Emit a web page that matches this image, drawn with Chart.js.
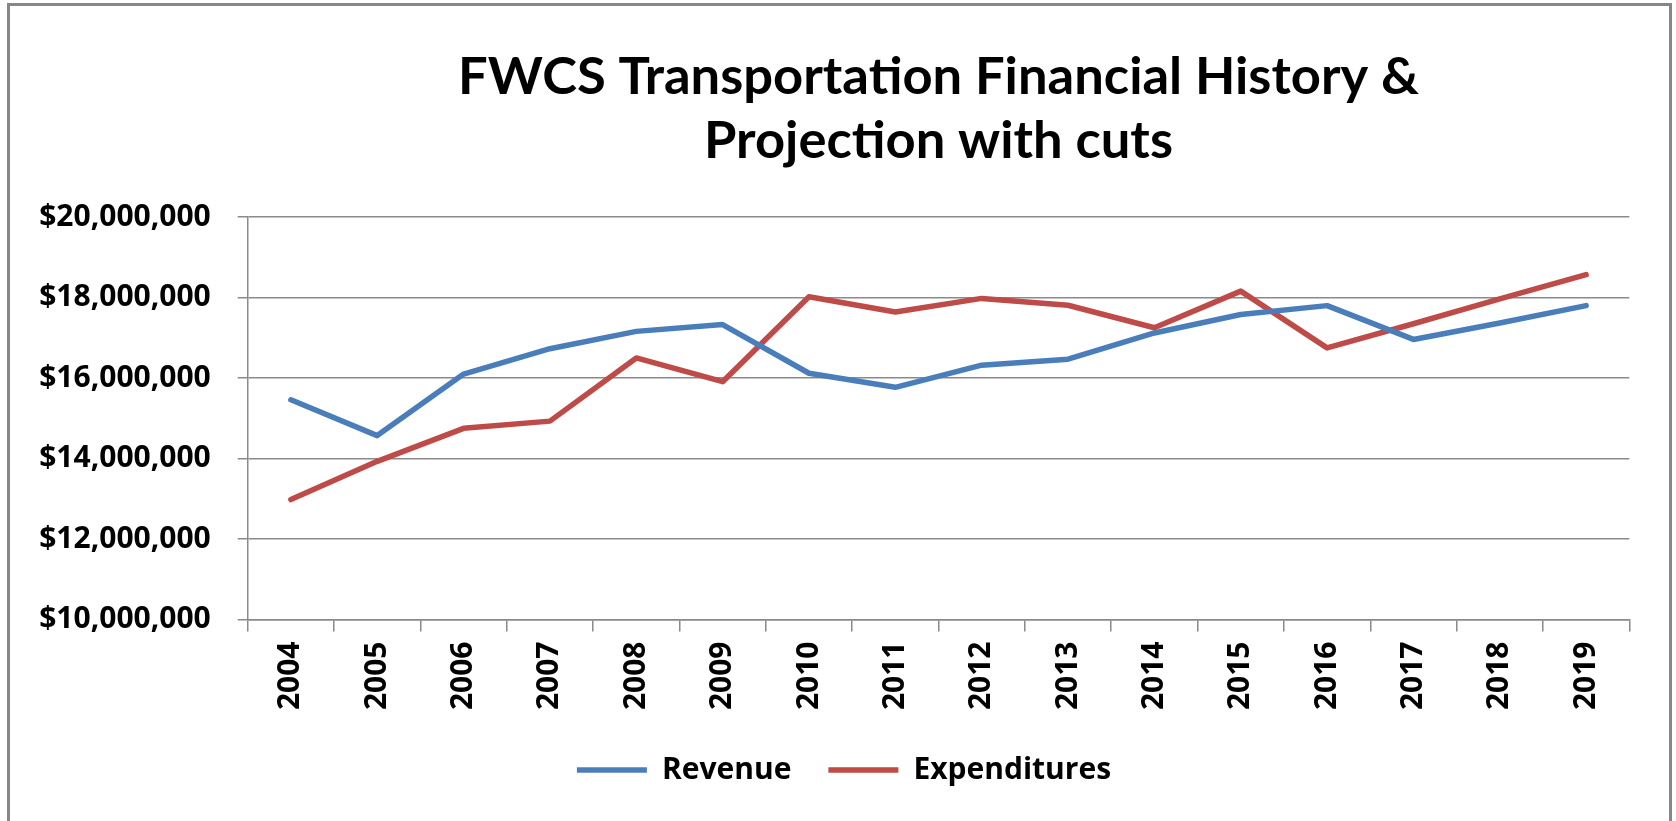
<!DOCTYPE html>
<html>
<head>
<meta charset="utf-8">
<script src="https://cdn.jsdelivr.net/npm/chart.js@4.4.1/dist/chart.umd.min.js"></script>
<style>
  html, body { margin: 0; padding: 0; background: #fff; overflow: hidden; }
  #wrap { position: relative; width: 1676px; height: 821px; }
  #frame { position: absolute; left: 7px; top: 3px; width: 1659px; height: 840px; border: 3px solid #878787; pointer-events: none; }
  canvas { position: absolute; left: 0; top: 0; }
</style>
</head>
<body>
<div id="wrap">
  <canvas id="c" width="1676" height="821"></canvas>
  <div id="frame"></div>
</div>
<script>
const years = ['2004','2005','2006','2007','2008','2009','2010','2011','2012','2013','2014','2015','2016','2017','2018','2019'];
const revenue = [15460000, 14570000, 16100000, 16730000, 17160000, 17330000, 16120000, 15770000, 16320000, 16470000, 17120000, 17580000, 17800000, 16960000, 17370000, 17800000];
const expenditures = [12980000, 13930000, 14750000, 14930000, 16500000, 15910000, 18020000, 17640000, 17980000, 17810000, 17250000, 18160000, 16750000, 17350000, 17970000, 18570000];
const yMin = 10000000, yMax = 20000000, yStep = 2000000;
const titleLines = ['FWCS Transportation Financial History &', 'Projection with cuts'];

const TITLE_FONT = 'Lato, "Open Sans", sans-serif';
const FONT = '"Open Sans", Lato, sans-serif';
const gridColor = '#8a8a8a';

// shift the legend row so it is centred where the original one is
const legendShift = {
  id: 'legendShift',
  afterLayout(chart) {
    if (chart.legend) { chart.legend.left += 58.7; }
  }
};

new Chart(document.getElementById('c'), {
  type: 'line',
  data: {
    labels: years,
    datasets: [
      { label: 'Revenue', data: revenue, borderColor: '#4A7EBB', backgroundColor: '#4A7EBB', borderWidth: 5.5, pointRadius: 0, tension: 0, borderCapStyle: 'round', borderJoinStyle: 'round' },
      { label: 'Expenditures', data: expenditures, borderColor: '#BE4B48', backgroundColor: '#BE4B48', borderWidth: 5.5, pointRadius: 0, tension: 0, borderCapStyle: 'round', borderJoinStyle: 'round' }
    ]
  },
  plugins: [legendShift],
  options: {
    responsive: false,
    animation: false,
    devicePixelRatio: 1,
    layout: { padding: { left: 0, right: 46.7, top: 0, bottom: 26 } },
    plugins: {
      tooltip: { enabled: false },
      title: {
        display: true,
        text: titleLines,
        fullSize: false,
        color: '#000',
        font: { family: TITLE_FONT, weight: 'bold', size: 52.5, lineHeight: 1.22 },
        padding: { top: 45, bottom: 44 }
      },
      legend: {
        position: 'bottom',
        labels: {
          usePointStyle: true,
          pointStyle: 'line',
          pointStyleWidth: 70,
          padding: 37,
          color: '#000',
          font: { family: FONT, weight: 'bold', size: 30 }
        }
      }
    },
    scales: {
      x: {
        offset: true,
        grid: { offset: true, drawOnChartArea: false, drawTicks: true, tickLength: 12, color: gridColor, lineWidth: 1.5 },
        border: { display: true, color: gridColor, width: 1.5 },
        ticks: { color: '#000', font: { family: FONT, weight: 'bold', size: 30 }, minRotation: 90, maxRotation: 90, padding: 10, autoSkip: false },
        afterFit: (s) => { s.height = 98.5; }
      },
      y: {
        min: yMin, max: yMax,
        grid: { color: gridColor, lineWidth: 1.5, drawTicks: true, tickLength: 10 },
        border: { display: true, color: gridColor, width: 1.5 },
        ticks: {
          stepSize: yStep,
          color: '#000',
          padding: 27,
          font: { family: FONT, weight: 'bold', size: 30 },
          callback: (v) => '$' + Number(v).toLocaleString('en-US')
        },
        afterFit: (s) => { s.width = 247.7; }
      }
    }
  }
});
</script>
</body>
</html>
